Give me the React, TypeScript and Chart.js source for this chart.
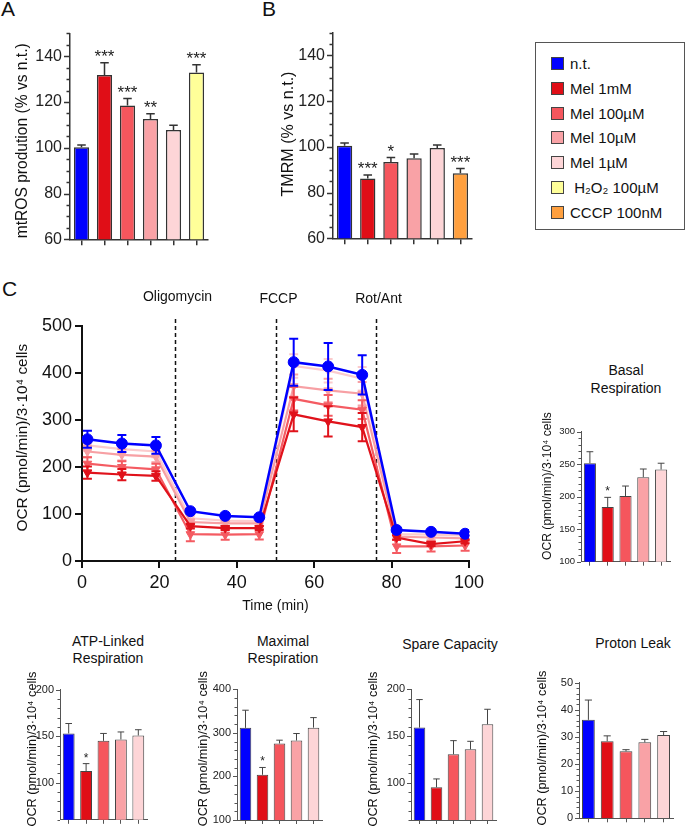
import React, { useEffect, useRef } from 'react';
import { Chart, registerables } from 'chart.js';

Chart.register(...registerables);

const FONT = 'Arial, "Liberation Sans", Helvetica, sans-serif';

// ---------------- data ----------------
const treatmentColors = ['#0000FF', '#E00E17', '#F5565D', '#F9A2A6', '#FDD5D7'];
const h2o2Color = '#FFFF99';
const cccpColor = '#FFA03F';

// Panel A – mtROS production
const rosGroups = ['n.t.', 'Mel 1mM', 'Mel 100µM', 'Mel 10µM', 'Mel 1µM', 'H2O2 100µM'];
const rosValues = [100.2, 131.8, 118.5, 112.6, 107.8, 132.9];
const rosErrors = [1.0, 5.4, 3.0, 2.3, 2.0, 3.4];
const rosStars = ['', '***', '***', '**', '', '***'];

// Panel B – TMRM
const tmrmGroups = ['n.t.', 'Mel 1mM', 'Mel 100µM', 'Mel 10µM', 'Mel 1µM', 'CCCP 100nM'];
const tmrmValues = [100.5, 86.1, 93.4, 95.0, 99.5, 88.4];
const tmrmErrors = [1.2, 1.6, 1.9, 1.9, 1.3, 2.1];
const tmrmStars = ['', '***', '*', '', '', '***'];

// Legend
const legendLabels = ['n.t.', 'Mel 1mM', 'Mel 100µM', 'Mel 10µM', 'Mel 1µM', ' H₂O₂ 100µM', 'CCCP 100nM'];
const legendColors = [...treatmentColors, h2o2Color, cccpColor];

// Panel C – OCR time course
const times = [1.4, 10.3, 19.1, 28, 37, 45.8, 54.7, 63.6, 72.4, 81.3, 90.2, 99];
const ocrNT = [259, 250, 246, 106, 96, 93, 423, 414, 396, 66, 62, 58];
const ocrNTErr = [18, 18, 18, 5, 4, 4, 50, 50, 42, 4, 4, 4];
const ocrMel1mM = [188, 184, 181, 74, 70, 70, 312, 297, 285, 50, 36, 42];
const ocrMel1mMErr = [13, 12, 10, 5, 4, 4, 36, 32, 30, 5, 4, 4];
const ocrMel100 = [207, 200, 195, 57, 56, 57, 345, 331, 322, 31, 31, 33];
const ocrMel100Err = [14, 12, 12, 15, 11, 11, 25, 22, 20, 14, 11, 11];
const ocrMel10 = [233, 226, 222, 83, 80, 80, 372, 363, 356, 52, 50, 48];
const ocrMel10Err = [12, 12, 12, 6, 6, 6, 25, 25, 25, 6, 6, 6];
const ocrMel1 = [246, 238, 233, 91, 86, 85, 415, 405, 388, 57, 56, 54];
const ocrMel1Err = [12, 12, 12, 6, 6, 6, 25, 25, 25, 6, 6, 6];
const injectionTimes = [24, 50, 76];
const injectionLabels = ['Oligomycin', 'FCCP', 'Rot/Ant'];

// Small panels
const melGroups = ['n.t.', 'Mel 1mM', 'Mel 100µM', 'Mel 10µM', 'Mel 1µM'];
const basalValues = [251.5, 184, 201, 230, 241.8];
const basalErrors = [17.7, 15, 15.4, 12.6, 9.7];
const basalStars = ['', '*', '', '', ''];
const atpValues = [153, 112.6, 145, 146.5, 150.8];
const atpErrors = [10.7, 7.9, 8, 8.1, 6.2];
const atpStars = ['', '*', '', '', ''];
const maxValues = [311.5, 203.8, 275.6, 282.4, 312];
const maxErrors = [40.5, 16.8, 7.6, 16.1, 23];
const maxStars = ['', '*', '', '', ''];
const spareValues = [159, 95, 130.4, 135.7, 162.5];
const spareErrors = [30, 9, 14.6, 8.6, 16.1];
const leakValues = [36.3, 28.4, 24.7, 28.0, 30.7];
const leakErrors = [7.3, 2.0, 0.6, 1.1, 1.3];

const OCR_LABEL = 'OCR (pmol/min)/3·10⁴ cells';

// ---------------- plugins ----------------
const errorBarPlugin: any = {
  id: 'errorBars',
  afterDatasetDraw(chart: any, args: any) {
    const ds: any = chart.data.datasets[args.index];
    if (!ds.errors) return;
    const meta = args.meta;
    const yScale = chart.scales[meta.yAxisID];
    const ctx = chart.ctx;
    ctx.save();
    ctx.strokeStyle = ds.errColor || '#333';
    ctx.lineWidth = ds.errWidth || 1;
    meta.data.forEach((el: any, i: number) => {
      const raw = ds.data[i];
      const v = typeof raw === 'number' ? raw : raw.y;
      const e = ds.errors[i];
      const x = el.x;
      const half = ds.capHalf != null ? ds.capHalf : (el.width || 8) * 0.28;
      const yTop = yScale.getPixelForValue(v + e);
      const yMid = yScale.getPixelForValue(v);
      const both = ds.errMode === 'both';
      const yBot = both ? yScale.getPixelForValue(v - e) : yMid;
      ctx.beginPath();
      ctx.moveTo(x, yTop);
      ctx.lineTo(x, yBot);
      ctx.moveTo(x - half, yTop);
      ctx.lineTo(x + half, yTop);
      if (both) {
        ctx.moveTo(x - half, yBot);
        ctx.lineTo(x + half, yBot);
      }
      ctx.stroke();
    });
    ctx.restore();
  },
  afterDatasetsDraw(chart: any) {
    const ctx = chart.ctx;
    chart.data.datasets.forEach((ds: any, di: number) => {
      if (!ds.stars) return;
      const meta = chart.getDatasetMeta(di);
      const yScale = chart.scales[meta.yAxisID];
      ctx.save();
      ctx.font = `${ds.starSize}px ${FONT}`;
      ctx.textAlign = 'center';
      ctx.textBaseline = 'alphabetic';
      ctx.fillStyle = '#222';
      meta.data.forEach((el: any, i: number) => {
        if (!ds.stars[i]) return;
        const top = yScale.getPixelForValue(ds.data[i] + ds.errors[i]);
        ctx.fillText(ds.stars[i], el.x, top - ds.starGap);
      });
      ctx.restore();
    });
  },
};

const axisTickPlugin: any = {
  id: 'axisTicks',
  afterDraw(chart: any, _args: any, opts: any) {
    if (!opts || !opts.major) return;
    const s = chart.scales.y;
    const ctx = chart.ctx;
    const x0 = chart.chartArea.left;
    ctx.save();
    ctx.strokeStyle = opts.color;
    ctx.lineWidth = opts.width;
    const n = Math.round((s.max - s.min) / opts.minor);
    for (let k = 0; k <= n; k++) {
      const v = s.min + k * opts.minor;
      const y = Math.round(s.getPixelForValue(v)) + 0.5;
      const r = v / opts.major;
      const isMajor = Math.abs(r - Math.round(r)) < 1e-6;
      const len = isMajor ? opts.majorLen : opts.minorLen;
      ctx.beginPath();
      ctx.moveTo(x0, y);
      ctx.lineTo(x0 - len, y);
      ctx.stroke();
    }
    ctx.restore();
  },
};

// rotated y-axis title, centred at (x, cy) in canvas coordinates and sized to span `len` pixels
const yTitlePlugin: any = {
  id: 'yTitle',
  afterDraw(chart: any, _args: any, opts: any) {
    if (!opts || !opts.text) return;
    const ctx = chart.ctx;
    ctx.save();
    ctx.font = `${opts.size}px ${FONT}`;
    let size = opts.size;
    if (opts.len) {
      const w = ctx.measureText(opts.text).width;
      if (w > 0) size = (opts.size * opts.len) / w;
      ctx.font = `${size}px ${FONT}`;
    }
    ctx.translate(opts.x, opts.cy);
    ctx.rotate(-Math.PI / 2);
    ctx.fillStyle = '#111';
    ctx.textAlign = 'center';
    ctx.textBaseline = 'middle';
    ctx.fillText(opts.text, 0, 0);
    ctx.restore();
  },
};

const injectionPlugin: any = {
  id: 'injections',
  beforeDatasetsDraw(chart: any, _args: any, opts: any) {
    if (!opts || !opts.times) return;
    const { ctx, chartArea } = chart;
    const xs = chart.scales.x;
    ctx.save();
    opts.times.forEach((t: number, i: number) => {
      const x = Math.round(xs.getPixelForValue(t)) + 0.5;
      ctx.strokeStyle = '#111';
      ctx.lineWidth = 1.5;
      ctx.setLineDash([4, 3]);
      ctx.beginPath();
      ctx.moveTo(x, chartArea.top - 7);
      ctx.lineTo(x, chartArea.bottom);
      ctx.stroke();
      ctx.setLineDash([]);
      ctx.fillStyle = '#111';
      ctx.font = `14px ${FONT}`;
      ctx.textAlign = 'center';
      ctx.textBaseline = 'middle';
      ctx.fillText(opts.labels[i], x + 2, chartArea.top - 27 - (i === 0 ? 2 : 0));
    });
    ctx.restore();
  },
};

// ---------------- chart builders ----------------
interface BarSpec {
  labels: string[];
  values: number[];
  errors: number[];
  colors: string[];
  stars?: string[];
  min: number;
  max: number;
  major: number;
  minor: number;
  tickSize: number;
  titleText: string;
  titleSize: number;
  titleX: number;
  titleCy: number;
  titleLen: number;
  yWidth: number;
  xHeight: number;
  padTop: number;
  padRight: number;
  barPct: number;
  axisColor: string;
  axisWidth: number;
  barBorder: number;
  barBorderColor: string;
  majorLen: number;
  minorLen: number;
  starSize: number;
  starGap: number;
  xTickLen: number;
}

function barConfig(o: BarSpec): any {
  return {
    type: 'bar',
    data: {
      labels: o.labels,
      datasets: [
        {
          data: o.values,
          backgroundColor: o.colors,
          borderColor: o.barBorderColor,
          borderWidth: o.barBorder,
          categoryPercentage: 1,
          barPercentage: o.barPct,
          errors: o.errors,
          errMode: 'up',
          errColor: o.barBorderColor,
          errWidth: o.barBorder,
          stars: o.stars,
          starSize: o.starSize,
          starGap: o.starGap,
        },
      ],
    },
    options: {
      animation: false,
      responsive: false,
      maintainAspectRatio: false,
      layout: { padding: { top: o.padTop, right: o.padRight, left: 0, bottom: 0 } },
      plugins: {
        legend: { display: false },
        tooltip: { enabled: false },
        axisTicks: {
          major: o.major,
          minor: o.minor,
          majorLen: o.majorLen,
          minorLen: o.minorLen,
          color: o.axisColor,
          width: o.axisWidth,
        },
        yTitle: { text: o.titleText, size: o.titleSize, x: o.titleX, cy: o.titleCy, len: o.titleLen },
      },
      scales: {
        x: {
          grid: {
            display: true,
            drawOnChartArea: false,
            drawTicks: true,
            tickLength: o.xTickLen,
            offset: false,
            color: o.axisColor,
            lineWidth: o.axisWidth,
          },
          border: { display: true, color: o.axisColor, width: o.axisWidth },
          ticks: { callback: () => '', padding: 0 },
          afterFit: (s: any) => {
            s.height = o.xHeight;
          },
        },
        y: {
          min: o.min,
          max: o.max,
          grid: { display: false, drawTicks: true, tickLength: o.majorLen },
          border: { display: true, color: o.axisColor, width: o.axisWidth },
          ticks: {
            stepSize: o.major,
            includeBounds: false,
            font: { family: FONT, size: o.tickSize },
            color: '#222',
            padding: 2,
            callback: (v: any) => String(v),
          },
          title: { display: false },
          afterFit: (s: any) => {
            s.width = o.yWidth;
          },
        },
      },
    },
    plugins: [errorBarPlugin, axisTickPlugin, yTitlePlugin],
  };
}

const ocrSeries = [
  { label: 'n.t.', values: ocrNT, errors: ocrNTErr, color: '#0000FF', width: 2.5, marker: 'circle', radius: 5.5 },
  { label: 'Mel 1mM', values: ocrMel1mM, errors: ocrMel1mMErr, color: '#E0121B', width: 2.2, marker: 'triangle', radius: 5 },
  { label: 'Mel 100µM', values: ocrMel100, errors: ocrMel100Err, color: '#F45B62', width: 2.2, marker: 'triangle', radius: 5 },
  { label: 'Mel 10µM', values: ocrMel10, errors: ocrMel10Err, color: '#F7A0A4', width: 2.2, marker: 'triangle', radius: 5 },
  { label: 'Mel 1µM', values: ocrMel1, errors: ocrMel1Err, color: '#FBCBCD', width: 2.2, marker: 'triangle', radius: 5 },
];

function lineConfig(): any {
  return {
    type: 'line',
    data: {
      datasets: ocrSeries.map((s) => ({
        label: s.label,
        data: times.map((t, i) => ({ x: t, y: s.values[i] })),
        borderColor: s.color,
        backgroundColor: s.color,
        pointBackgroundColor: s.color,
        pointBorderColor: s.color,
        borderWidth: s.width,
        pointStyle: s.marker,
        pointRadius: s.radius,
        pointRotation: s.marker === 'triangle' ? 180 : 0,
        pointBorderWidth: 1,
        tension: 0,
        errors: s.errors,
        errMode: 'both',
        errColor: s.color,
        errWidth: 2,
        capHalf: 4.5,
      })),
    },
    options: {
      animation: false,
      responsive: false,
      maintainAspectRatio: false,
      layout: { padding: { top: 46, right: 21, left: 0, bottom: 0 } },
      plugins: {
        legend: { display: false },
        tooltip: { enabled: false },
        injections: { times: injectionTimes, labels: injectionLabels },
        yTitle: { text: OCR_LABEL, size: 15.5, x: 23, cy: 157.7, len: 188 },
      },
      scales: {
        x: {
          type: 'linear',
          min: 0,
          max: 100,
          grid: { display: true, drawOnChartArea: false, drawTicks: true, tickLength: 7, color: '#111', lineWidth: 2 },
          border: { display: true, color: '#111', width: 2 },
          ticks: { stepSize: 20, font: { family: FONT, size: 18 }, color: '#111', padding: 4 },
          title: {
            display: true,
            text: 'Time (min)',
            font: { family: FONT, size: 14 },
            color: '#111',
            padding: { top: 0, bottom: 5.6 },
          },
          afterFit: (s: any) => {
            s.height = 59;
          },
        },
        y: {
          min: 0,
          max: 500,
          grid: { display: true, drawOnChartArea: false, drawTicks: true, tickLength: 7, color: '#111', lineWidth: 2 },
          border: { display: true, color: '#111', width: 2 },
          ticks: { stepSize: 100, font: { family: FONT, size: 18 }, color: '#111', padding: 3 },
          title: { display: false },
          afterFit: (s: any) => {
            s.width = 82;
          },
        },
      },
    },
    plugins: [injectionPlugin, errorBarPlugin, yTitlePlugin],
  };
}

// common style for the big bar panels (A, B)
const bigBar = {
  min: 60,
  max: 150,
  major: 20,
  minor: 5,
  tickSize: 16,
  titleSize: 15.6,
  barPct: 0.66,
  axisColor: '#333',
  axisWidth: 1.5,
  barBorder: 1.5,
  barBorderColor: '#333',
  majorLen: 6,
  minorLen: 3.5,
  starSize: 17,
  starGap: 0.5,
  xTickLen: 6,
};

// common style for the small OCR summary panels
const smallBar = {
  tickSize: 11,
  titleText: OCR_LABEL,
  titleSize: 13,
  titleLen: 155,
  barPct: 0.68,
  axisColor: '#555',
  axisWidth: 1,
  barBorder: 1,
  barBorderColor: '#444',
  majorLen: 4,
  minorLen: 2.5,
  starSize: 12,
  starGap: 2,
  xTickLen: 4,
};

function ChartCanvas(props: { left: number; top: number; width: number; height: number; make: () => any }) {
  const ref = useRef<HTMLCanvasElement | null>(null);
  useEffect(() => {
    if (!ref.current) return;
    const chart = new Chart(ref.current, props.make());
    return () => chart.destroy();
  }, []);
  return (
    <canvas
      ref={ref}
      width={props.width}
      height={props.height}
      style={{ position: 'absolute', left: props.left, top: props.top, width: props.width, height: props.height }}
    />
  );
}

function Label(props: { left: number; top: number; size: number; text: string }) {
  return (
    <div
      style={{
        position: 'absolute',
        left: props.left,
        top: props.top,
        fontSize: props.size,
        lineHeight: `${props.size}px`,
        whiteSpace: 'nowrap',
      }}
    >
      {props.text}
    </div>
  );
}

function PanelTitle(props: { cx: number; top: number; lines: string[]; lh: number }) {
  return (
    <div
      style={{
        position: 'absolute',
        left: props.cx - 80,
        width: 160,
        top: props.top,
        textAlign: 'center',
        fontSize: 14,
        lineHeight: `${props.lh}px`,
        color: '#111',
      }}
    >
      {props.lines.map((l, i) => (
        <div key={i}>{l}</div>
      ))}
    </div>
  );
}

export default function App() {
  return (
    <div
      style={{
        position: 'absolute',
        left: 0,
        top: 0,
        width: 685,
        height: 827,
        overflow: 'hidden',
        background: '#fff',
        fontFamily: FONT,
        color: '#111',
      }}
    >
      <Label left={1} top={-2} size={21} text="A" />
      <Label left={262} top={-2} size={21} text="B" />
      <Label left={2} top={278} size={21} text="C" />

      <ChartCanvas
        left={0}
        top={20}
        width={215}
        height={235}
        make={() =>
          barConfig({
            ...bigBar,
            labels: rosGroups,
            values: rosValues,
            errors: rosErrors,
            colors: [...treatmentColors, h2o2Color],
            stars: rosStars,
            titleText: 'mtROS prodution (% vs n.t.)',
            titleX: 23,
            titleCy: 120.8,
            titleLen: 195,
            yWidth: 70,
            xHeight: 15.7,
            padTop: 13.4,
            padRight: 7,
          })
        }
      />

      <ChartCanvas
        left={265}
        top={20}
        width={215}
        height={235}
        make={() =>
          barConfig({
            ...bigBar,
            labels: tmrmGroups,
            values: tmrmValues,
            errors: tmrmErrors,
            colors: [...treatmentColors, cccpColor],
            stars: tmrmStars,
            titleText: 'TMRM (% vs n.t.)',
            titleX: 23.3,
            titleCy: 114,
            titleLen: 125,
            yWidth: 68,
            xHeight: 16.7,
            padTop: 12.5,
            padRight: 8,
          })
        }
      />

      {/* legend */}
      <div
        style={{
          position: 'absolute',
          left: 535,
          top: 42,
          width: 150,
          height: 188,
          border: '1px solid #555',
          boxSizing: 'border-box',
        }}
      >
        {legendLabels.map((lab, i) => (
          <div key={i}>
            <div
              style={{
                position: 'absolute',
                left: 15,
                top: 14 + i * 24.8,
                width: 13,
                height: 13,
                background: legendColors[i],
                border: '1px solid #444',
                boxSizing: 'border-box',
              }}
            />
            <div
              style={{
                position: 'absolute',
                left: 34,
                top: 11 + i * 24.8,
                fontSize: 15,
                lineHeight: '19px',
                whiteSpace: 'pre',
              }}
            >
              {lab}
            </div>
          </div>
        ))}
      </div>

      <ChartCanvas left={0} top={280} width={490} height={340} make={lineConfig} />

      <PanelTitle cx={626} top={361} lines={['Basal', 'Respiration']} lh={18} />
      <ChartCanvas
        left={520}
        top={400}
        width={160}
        height={175}
        make={() =>
          barConfig({
            ...smallBar,
            tickSize: 9.5,
            titleSize: 12.5,
            titleLen: 148,
            labels: melGroups,
            values: basalValues,
            errors: basalErrors,
            colors: treatmentColors,
            stars: basalStars,
            min: 100,
            max: 300,
            major: 50,
            minor: 10,
            titleX: 28,
            titleCy: 86,
            yWidth: 61,
            xHeight: 13.3,
            padTop: 31.7,
            padRight: 10,
          })
        }
      />

      <PanelTitle cx={108} top={633} lines={['ATP-Linked', 'Respiration']} lh={16.6} />
      <ChartCanvas
        left={0}
        top={650}
        width={160}
        height={190}
        make={() =>
          barConfig({
            ...smallBar,
            labels: melGroups,
            values: atpValues,
            errors: atpErrors,
            colors: treatmentColors,
            stars: atpStars,
            min: 60,
            max: 200,
            major: 50,
            minor: 10,
            titleX: 32,
            titleCy: 99,
            yWidth: 60,
            xHeight: 20.2,
            padTop: 39.8,
            padRight: 13,
          })
        }
      />

      <PanelTitle cx={283} top={633} lines={['Maximal', 'Respiration']} lh={17.4} />
      <ChartCanvas
        left={175}
        top={650}
        width={160}
        height={190}
        make={() =>
          barConfig({
            ...smallBar,
            labels: melGroups,
            values: maxValues,
            errors: maxErrors,
            colors: treatmentColors,
            stars: maxStars,
            min: 100,
            max: 400,
            major: 100,
            minor: 20,
            titleX: 28.3,
            titleCy: 98.7,
            yWidth: 62,
            xHeight: 20,
            padTop: 39.3,
            padRight: 13,
          })
        }
      />

      <PanelTitle cx={450} top={634.5} lines={['Spare Capacity']} lh={18} />
      <ChartCanvas
        left={350}
        top={650}
        width={160}
        height={190}
        make={() =>
          barConfig({
            ...smallBar,
            labels: melGroups,
            values: spareValues,
            errors: spareErrors,
            colors: treatmentColors,
            min: 60,
            max: 200,
            major: 50,
            minor: 10,
            titleX: 23.3,
            titleCy: 99,
            yWidth: 61,
            xHeight: 20,
            padTop: 39.3,
            padRight: 14,
          })
        }
      />

      <PanelTitle cx={633} top={633.5} lines={['Proton Leak']} lh={18} />
      <ChartCanvas
        left={515}
        top={650}
        width={170}
        height={190}
        make={() =>
          barConfig({
            ...smallBar,
            labels: melGroups,
            values: leakValues,
            errors: leakErrors,
            colors: treatmentColors,
            min: 0,
            max: 50,
            major: 10,
            minor: 2,
            titleX: 27.3,
            titleCy: 98,
            yWidth: 64,
            xHeight: 21.7,
            padTop: 32.7,
            padRight: 12,
          })
        }
      />
    </div>
  );
}
